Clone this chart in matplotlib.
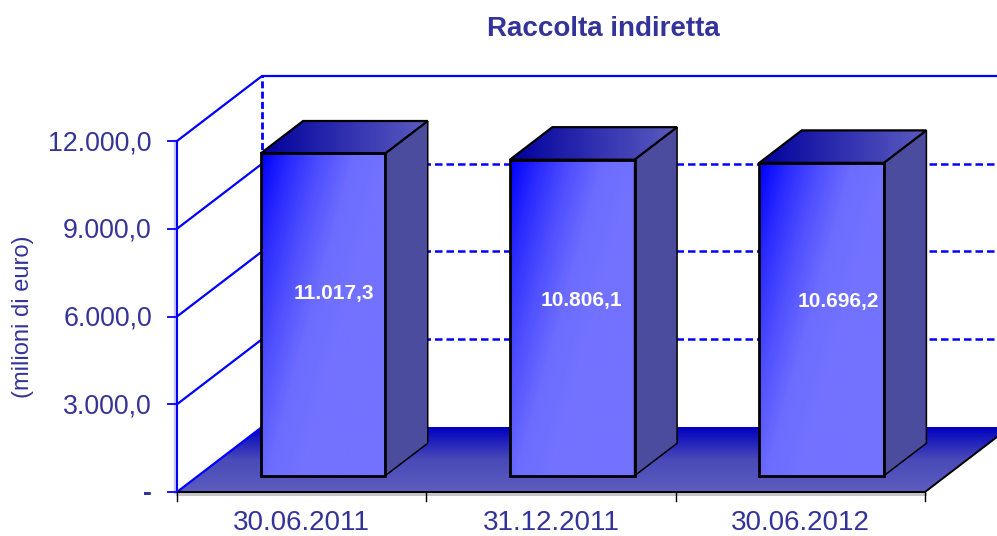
import numpy as np
import matplotlib
matplotlib.use('Agg')
import matplotlib.pyplot as plt
from matplotlib.colors import LinearSegmentedColormap
from matplotlib.patches import Polygon

plt.rcParams['font.family'] = ['Liberation Sans', 'DejaVu Sans']

categorie = ['30.06.2011', '31.12.2011', '30.06.2012']
valori = [11017.3, 10806.1, 10696.2]
etichette = ['11.017,3', '10.806,1', '10.696,2']
tick_valori = [0, 3000, 6000, 9000, 12000]
tick_testi = ['-', '3.000,0', '6.000,0', '9.000,0', '12.000,0']

BLU = '#0000ff'
TESTO = '#333399'
CAT_PX = 249.33
VAL_PX = 351 / 12000
DX = 85 / CAT_PX      # profondita' in unita' categoria
DY = 65 / VAL_PX      # profondita' in unita' valore


def p(x, y, d=0.0):
    return (x + d * DX, y + d * DY)


def gradiente(ax, punti, colori, diagonale=False, verticale=False, z=2):
    xs = [q[0] for q in punti]
    ys = [q[1] for q in punti]
    n = 160
    u, v = np.meshgrid(np.linspace(0, 1, n), np.linspace(0, 1, n))
    if verticale:
        t = v
    elif diagonale:
        t = np.clip(u + v * 0.7, 0, 1)
    else:
        t = u
    cmap = LinearSegmentedColormap.from_list('g', colori)
    im = ax.imshow(t, cmap=cmap, vmin=0, vmax=1, aspect='auto', origin='upper',
                   extent=(min(xs), max(xs), min(ys), max(ys)), zorder=z,
                   interpolation='bilinear')
    im.set_clip_path(Polygon(punti, closed=True, transform=ax.transData))


fig = plt.figure(figsize=(9.97, 5.36), dpi=100)
ax = fig.add_axes([0, 0, 1, 1])
xlim = (-177 / CAT_PX, (997 - 177) / CAT_PX)
ylim = (-44 / VAL_PX, 492 / VAL_PX)
ax.axis('off')

# griglia sulle pareti
for v in tick_valori[1:4]:
    ax.plot(*zip(p(0, v, 1), p(3, v, 1)), color=BLU, lw=1.8, ls=(0, (3, 1.6)), zorder=1)
    ax.plot(*zip(p(0, v, 0), p(0, v, 1)), color=BLU, lw=1.6, zorder=1)
ax.plot(*zip(p(0, 12000, 0), p(0, 12000, 1), p(3, 12000, 1)), color=BLU, lw=1.6, zorder=1)
ax.plot(*zip(p(0, 0, 1), p(0, 12000, 1)), color=BLU, lw=2.0, ls=(0, (2.5, 1.2)), zorder=1)

# pavimento
pav = [p(0, 0, 0), p(3, 0, 0), p(3, 0, 1), p(0, 0, 1)]
gradiente(ax, pav, ['#0000c0', '#4a4ab8', '#5c5cc0'], verticale=True)
ax.plot(*zip(p(0, 0, 0), p(0, 0, 1)), color=BLU, lw=1.6, zorder=3)
ax.plot(*zip(p(0, 0, 0), p(3, 0, 0), p(3, 0, 1)), color='black', lw=1.4, zorder=3)
ax.plot(*zip(p(0, -70, 0), p(3, -70, 0)), color='#c4c4c4', lw=2.2, zorder=2)

# assi
ax.plot([0, 0], [0, 12000], color='#c8c8f0', lw=2.5, zorder=2,
        transform=ax.transData + matplotlib.transforms.ScaledTranslation(-2 / 100, 0, fig.dpi_scale_trans))
ax.plot([0, 0], [0, 12000], color=BLU, lw=1.5, zorder=3)
for v, t in zip(tick_valori, tick_testi):
    ax.plot([-9 / CAT_PX, 0], [v, v], color=BLU, lw=1.3, zorder=3)
    ax.text(-25 / CAT_PX, v - 2 / VAL_PX, t, ha='right', va='center', fontsize=19.3, color=TESTO,
            fontweight='bold' if t == '-' else 'normal')
for i in range(4):
    ax.plot([i, i], [0, -9 / VAL_PX], color='black', lw=1, zorder=3)
for i, c in enumerate(categorie):
    ax.text(i + 0.5, -38 / VAL_PX, c, ha='center', va='baseline', fontsize=20, color=TESTO)

# barre
scost_x = [11, 9, 17]
scost_y = [21, 17, 18]
for i, (v, e) in enumerate(zip(valori, etichette)):
    x0, x1 = i + 0.25, i + 0.75
    fronte = [p(x0, 0, .25), p(x1, 0, .25), p(x1, v, .25), p(x0, v, .25)]
    sopra = [p(x0, v, .25), p(x1, v, .25), p(x1, v, .75), p(x0, v, .75)]
    lato = [p(x1, 0, .25), p(x1, 0, .75), p(x1, v, .75), p(x1, v, .25)]
    gradiente(ax, fronte, ['#0000ff', '#2c2cff', '#5050ff', '#6c6cff', '#7272ff'], diagonale=True, z=4)
    gradiente(ax, sopra, ['#00009c', '#3030b0', '#5c5cc0'], z=4)
    ax.add_patch(Polygon(lato, closed=True, fc='#4c4c9f', ec='none', zorder=4))
    for poli, lw in ((sopra, 1.6), (lato, 1.1), (fronte, 2.0)):
        ax.add_patch(Polygon(poli, closed=True, fc='none', ec='black', lw=lw, zorder=5, joinstyle='miter'))
    cx = (fronte[0][0] + fronte[1][0]) / 2 + scost_x[i] / CAT_PX
    cy = (fronte[0][1] + fronte[2][1]) / 2 + scost_y[i] / VAL_PX
    ax.text(cx, cy, e, ha='center', va='center', fontsize=15, color='white', zorder=6, fontweight='bold')

ax.text(-154 / CAT_PX, 175 / VAL_PX, '(milioni di euro)', rotation=90, ha='center', va='center',
        fontsize=17, color=TESTO)
fig.text(603 / 997, 1 - 29 / 536, 'Raccolta indiretta', ha='center', va='center',
         fontsize=20, fontweight='bold', color=TESTO)

ax.set_xlim(*xlim)
ax.set_ylim(*ylim)
fig.savefig('out.png', dpi=100)
